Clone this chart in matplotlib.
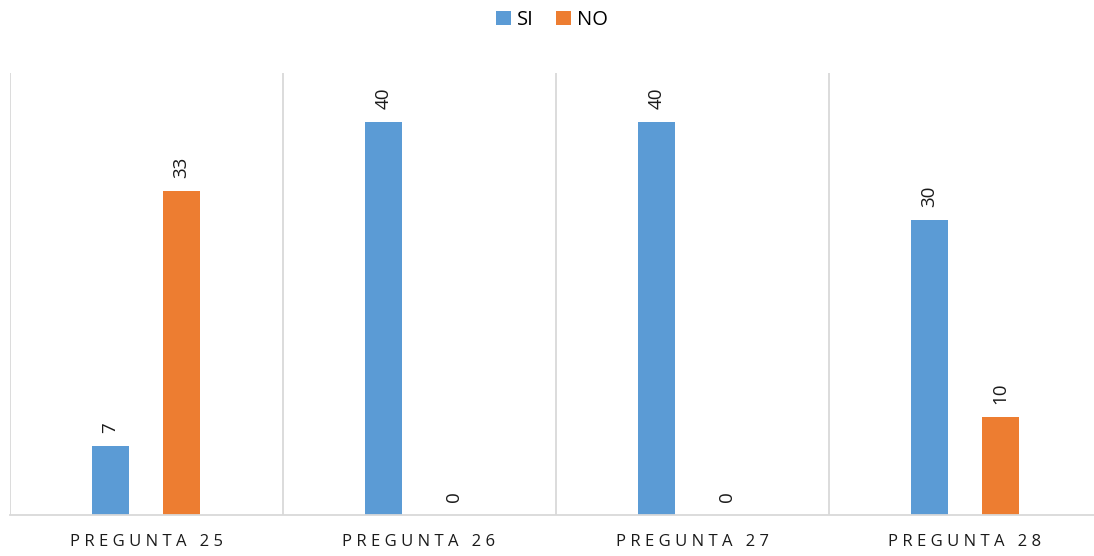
import matplotlib.pyplot as plt
import numpy as np

# survey answers per question
preguntas = ["PREGUNTA 25", "PREGUNTA 26", "PREGUNTA 27", "PREGUNTA 28"]
si = [7, 40, 40, 30]
no = [33, 0, 0, 10]

azul = "#5B9BD5"
naranja = "#ED7D31"
gris = "#D9D9D9"

plt.rcParams['font.family'] = ['Open Sans', 'DejaVu Sans']

fig = plt.figure(figsize=(10.94, 5.56), dpi=100)
ax = fig.add_axes([9.5 / 1094, 41 / 556, 1092 / 1094, 442 / 556])

x = np.arange(len(preguntas))
w = 0.135
off = 0.13
b1 = ax.bar(x - off, si, w, color=azul, label="SI")
b2 = ax.bar(x + off, no, w, color=naranja, label="NO")

for bars, vals in ((b1, si), (b2, no)):
    for rect, v in zip(bars, vals):
        ax.annotate(str(v), (rect.get_x() + rect.get_width() / 2, v),
                    xytext=(0, 9.5), textcoords="offset points",
                    rotation=90, ha="center", va="bottom",
                    fontsize=13.5, color="#1a1a1a")

ax.set_xlim(-0.5, len(preguntas) - 0.5)
ax.set_ylim(0, 45)
ax.set_yticks([])

# separators between categories
for b in np.arange(-0.5, len(preguntas), 1.0):
    ax.axvline(b, color=gris, lw=1.3, zorder=0)

for s in ("top", "right", "left"):
    ax.spines[s].set_visible(False)
ax.spines["bottom"].set_color(gris)
ax.spines["bottom"].set_linewidth(1.3)

ax.set_xticks(x)
ax.set_xticklabels([" ".join(p) for p in preguntas],
                   fontsize=12, color="#1a1a1a")
ax.tick_params(axis="x", length=0, pad=14)

fig.legend(handles=[b1, b2], labels=["SI", "NO"], loc="center",
           bbox_to_anchor=(552 / 1094, 1 - 20 / 556), ncol=2, frameon=False,
           fontsize=14.5, handlelength=0.75, handleheight=0.75,
           handletextpad=0.3, columnspacing=1.1)

fig.savefig("out.png", dpi=100)
